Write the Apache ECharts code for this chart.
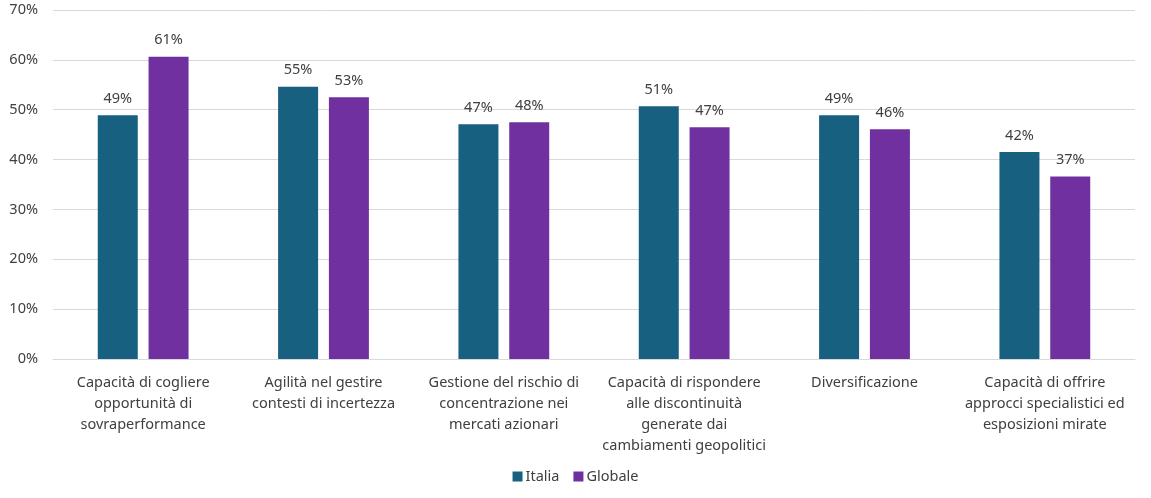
<!DOCTYPE html>
<html>
<head>
<meta charset="utf-8">
<script src="https://cdn.jsdelivr.net/npm/echarts@6/dist/echarts.min.js"></script>
<style>
  html, body { margin: 0; padding: 0; background: #fff; }
  #chart { width: 1151px; height: 498px; }
</style>
</head>
<body>
<div id="chart"></div>
<script>
var categories = [
    'Capacità di cogliere\nopportunità di\nsovraperformance',
    'Agilità nel gestire\ncontesti di incertezza',
    'Gestione del rischio di\nconcentrazione nei\nmercati azionari',
    'Capacità di rispondere\nalle discontinuità\ngenerate dai\ncambiamenti geopolitici',
    'Diversificazione',
    'Capacità di offrire\napprocci specialistici ed\nesposizioni mirate'
];
var italia = [48.9, 54.6, 47.1, 50.7, 48.9, 41.5];
var globale = [60.6, 52.5, 47.5, 46.5, 46.1, 36.6];
var yTicks = [0, 10, 20, 30, 40, 50, 60, 70];

var font = '"Noto Sans", "Open Sans", sans-serif';
var textColor = '#404040';

var chart = echarts.init(document.getElementById('chart'));

function barLabel() {
    return {
        show: true,
        position: 'top',
        distance: 9,
        fontFamily: font,
        fontSize: 14.5,
        color: textColor,
        formatter: function (p) {
            return Math.round(p.value) + '%';
        }
    };
}

chart.setOption({
    animation: false,
    textStyle: { fontFamily: font },
    grid: { left: 53, right: 16, top: 10, bottom: 139 },
    legend: {
        bottom: 9,
        left: 'center',
        itemWidth: 10,
        itemHeight: 10,
        itemGap: 14,
        icon: 'rect',
        textStyle: { fontFamily: font, fontSize: 14.5, color: textColor, padding: [0, 0, 0, -2] },
        data: ['Italia', 'Globale']
    },
    xAxis: {
        type: 'category',
        data: categories,
        axisLine: { lineStyle: { color: '#d9d9d9' } },
        axisTick: { show: false },
        axisLabel: {
            interval: 0,
            margin: 13,
            fontFamily: font,
            fontSize: 14.5,
            lineHeight: 21,
            color: textColor
        }
    },
    yAxis: {
        type: 'value',
        min: yTicks[0],
        max: yTicks[yTicks.length - 1],
        interval: 10,
        axisLine: { show: false },
        axisTick: { show: false },
        splitLine: { lineStyle: { color: '#d9d9d9' } },
        axisLabel: {
            margin: 15,
            fontFamily: font,
            fontSize: 14.5,
            color: textColor,
            formatter: '{value}%'
        }
    },
    series: [
        {
            name: 'Italia',
            type: 'bar',
            data: italia,
            barWidth: 40,
            barGap: '27%',
            itemStyle: { color: '#17607f' },
            label: barLabel()
        },
        {
            name: 'Globale',
            type: 'bar',
            data: globale,
            barWidth: 40,
            itemStyle: { color: '#7030a0' },
            label: barLabel()
        }
    ]
});
</script>
</body>
</html>
